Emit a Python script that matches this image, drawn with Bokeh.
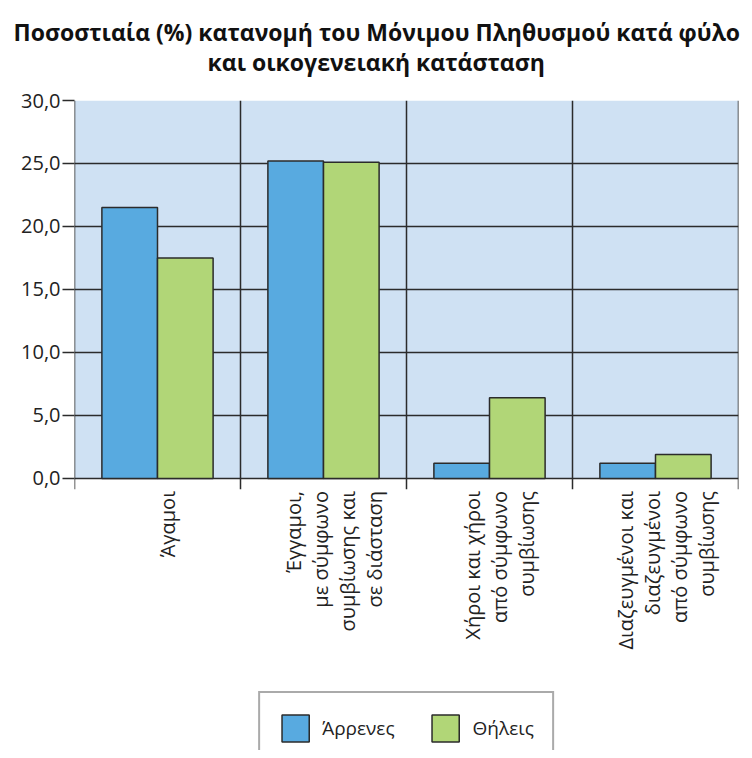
from bokeh.plotting import figure
from bokeh.models import FixedTicker, Legend, LegendItem, Range1d, Title
from bokeh.core.properties import value
from bokeh.embed import file_html
from bokeh.resources import INLINE

# ---- data ----
categories = [
    "Άγαμοι",
    "Έγγαμοι,\nμε σύμφωνο\nσυμβίωσης και\nσε διάσταση",
    "Χήροι και χήροι\nαπό σύμφωνο\nσυμβίωσης",
    "Διαζευγμένοι και\nδιαζευγμένοι\nαπό σύμφωνο\nσυμβίωσης",
]
males = [21.5, 25.2, 1.2, 1.2]
females = [17.5, 25.1, 6.4, 1.9]
series_names = ["Άρρενες", "Θήλεις"]
y_ticks = [0, 5, 10, 15, 20, 25, 30]
y_tick_labels = ["0,0", "5,0", "10,0", "15,0", "20,0", "25,0", "30,0"]
title_lines = ["Ποσοστιαία (%) κατανομή του Μόνιμου Πληθυσμού κατά φύλο",
               "και οικογενειακή κατάσταση"]

# ---- styling ----
FONT = "Open Sans"
BG = "#cfe1f3"
BLUE = "#58aae0"
GREEN = "#b1d677"
LINE = "#2b2b2b"

n = len(categories)
centers = [i + 0.5 for i in range(n)]
bar_w = 0.335

p = figure(width=744, height=750, x_range=Range1d(0, n), y_range=Range1d(-21.59, 30),
           output_backend="svg", toolbar_location=None, x_axis_location=None, title=None,
           min_border_left=74, min_border_right=6, min_border_top=100, min_border_bottom=0)
p.outline_line_color = None
p.background_fill_color = "white"
p.border_fill_color = "white"

# two-line title (second line nearest the plot), shifted so it is centred on the page
t2 = Title(text=title_lines[1], align="left", offset=133, text_font=FONT, text_font_style="bold",
           text_font_size="23px", text_color="#111111", standoff=45)
t1 = Title(text=title_lines[0], align="left", offset=-61, text_font=FONT, text_font_style="bold",
           text_font_size="23px", text_color="#111111", standoff=-52)
p.add_layout(t2, "above")
p.add_layout(t1, "above")

# plot area background
p.quad(left=[0], right=[n], bottom=[0], top=[y_ticks[-1]], fill_color=BG, line_color=None, level="image")

# y axis
yax = p.yaxis[0]
yax.ticker = FixedTicker(ticks=y_ticks)
yax.major_label_overrides = {t: l for t, l in zip(y_ticks, y_tick_labels)}
yax.axis_line_color = None
yax.major_tick_out = 12
yax.major_tick_in = 0
yax.major_tick_line_color = LINE
yax.major_tick_line_width = 1.5
yax.minor_tick_line_color = None
yax.major_label_text_font = FONT
yax.major_label_text_font_size = "20px"
yax.major_label_text_color = "#222222"
yax.major_label_standoff = 2

p.xgrid.grid_line_color = None
p.ygrid.ticker = FixedTicker(ticks=y_ticks)
p.ygrid.grid_line_color = LINE
p.ygrid.grid_line_width = 1.5

# bars
r_m = p.vbar(x=[c - bar_w / 2 for c in centers], top=males, bottom=0, width=bar_w,
             fill_color=BLUE, line_color=LINE, line_width=1.5)
r_f = p.vbar(x=[c + bar_w / 2 for c in centers], top=females, bottom=0, width=bar_w,
             fill_color=GREEN, line_color=LINE, line_width=1.5)

# separators (left axis line + category boundaries), extending below 0 as ticks
xs = list(range(n + 1))
p.segment(x0=xs, x1=xs, y0=[-0.85] * len(xs), y1=[y_ticks[-1]] * len(xs),
          line_color=LINE, line_width=1.5)

# category labels, rotated
p.text(x=centers, y=[-1.0] * n, text=categories, angle=1.5708,
       text_align="right", text_baseline="middle", x_offset=10,
       text_font=value(FONT), text_font_size="20px", text_color="#222222",
       text_line_height=1.0)

legend = Legend(items=[LegendItem(label=series_names[0], renderers=[r_m]),
                       LegendItem(label=series_names[1], renderers=[r_f])],
                location="bottom_center", orientation="horizontal")
legend.margin = -15
legend.padding = 18
legend.spacing = 34
legend.glyph_width = 34
legend.glyph_height = 34
legend.label_standoff = 10
legend.label_text_font = FONT
legend.label_text_font_size = "19px"
legend.label_text_color = "#222222"
legend.border_line_color = "#555555"
legend.border_line_width = 2
legend.background_fill_color = "white"
legend.background_fill_alpha = 1
p.add_layout(legend)

open("out.html", "w").write(file_html(p, INLINE))
